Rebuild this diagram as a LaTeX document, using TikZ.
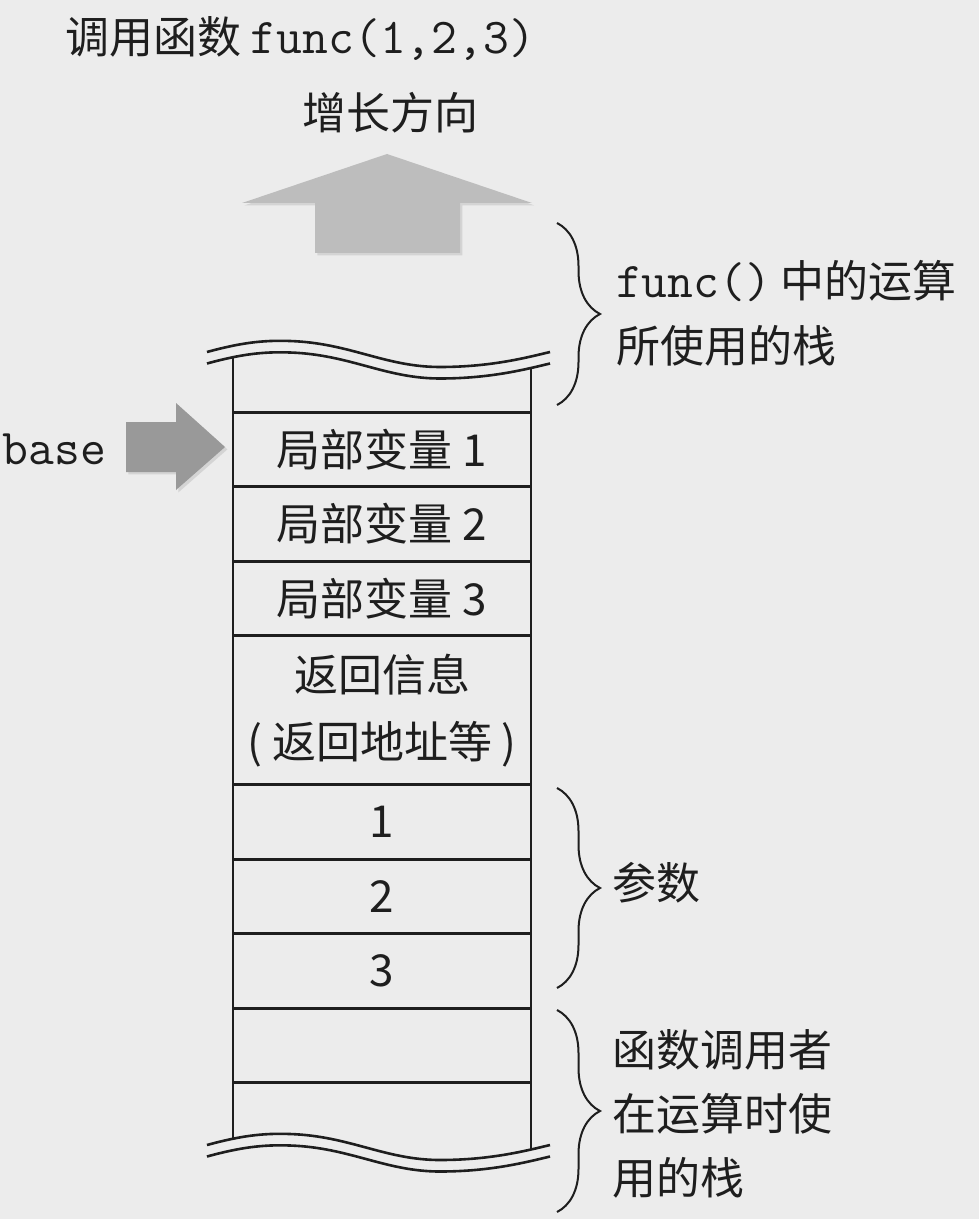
\documentclass[tikz,border=0pt]{standalone}
\usepackage{fontspec}
\setmainfont{Noto Sans CJK SC}
\setmonofont[Scale=1.14]{Latin Modern Mono}
\usetikzlibrary{positioning,decorations.pathreplacing,shadows}
\definecolor{bgcolor}{RGB}{236,236,236}
\definecolor{upgray}{RGB}{189,189,189}
\definecolor{basegray}{RGB}{153,153,153}
\definecolor{inkcolor}{RGB}{30,30,30}
\tikzset{txt/.style={inner sep=0pt, outer sep=0pt, text=inkcolor, font=\fontsize{22pt}{32.5pt}\selectfont}, cell/.style={txt, draw=inkcolor, line width=1.3pt, rectangle, minimum width=149pt, minimum height=37.25pt, align=center}, bigcell/.style={cell, minimum height=74.5pt, font=\fontsize{22pt}{33.5pt}\selectfont}, wave/.style={draw=inkcolor, line width=1.3pt}, curly/.style={draw=inkcolor, line width=1pt, decorate, decoration={brace, amplitude=21.5pt}}, shade/.style={drop shadow={shadow xshift=1.2pt, shadow yshift=-1.2pt, opacity=0.22}}}

\begin{document}
\begin{tikzpicture}[x=0.5pt, y=-0.5pt, node distance=0pt]
    \fill[bgcolor] (0,0) rectangle (979,1219);
    \useasboundingbox (0,0) rectangle (979,1219);
    % texts on top
    \node[txt, anchor=west] (title) at (65,38) {调用函数 \texttt{func(1,2,3)}};
    \node[txt] (grow) at (390,113) {增长方向};
    % arrows
    \fill[upgray, shade] (387,154) -- (532,203) -- (460,203) -- (460,253) -- (315,253) -- (315,203) -- (242,203) -- cycle;
    \fill[basegray, shade] (126,422) -- (176,422) -- (176,403) -- (225,447) -- (176,490) -- (176,472) -- (126,472) -- cycle;
    \node[txt, anchor=west] (base) at (3,449) {\texttt{base}};
    % stack cells
    \node[cell] (L1) at (382,449.5) {局部变量 1};
    \node[cell, below=of L1] (L2) {局部变量 2};
    \node[cell, below=of L2] (L3) {局部变量 3};
    \node[bigcell, below=of L3] (ret) {返回信息\\( 返回地址等 )};
    \node[cell, below=of ret] (A1) {1};
    \node[cell, below=of A1] (A2) {2};
    \node[cell, below=of A2] (A3) {3};
    \node[cell, below=of A3] (C1) {};
    % open ends of the stack
    \coordinate (tl) at (233,357);
    \coordinate (bl) at (233,1139);
    \coordinate (tr) at (531,368);
    \coordinate (br) at (531,1150);
    \draw[wave] (tl) -- (bl);
    \draw[wave] (tr) -- (br);
    \foreach \dy in {0,11.5,793,804.5}
        \draw[wave, shift={(0,\dy)}] (207,352) .. controls (240,343) and (262,340) .. (290,341) .. controls (350,343) and (385,367) .. (440,367) .. controls (490,367) and (525,358) .. (550,352);
    % braces
    \coordinate (b1s) at (557,223);
    \coordinate (b1e) at (557,405);
    \coordinate (b2s) at (557,788);
    \coordinate (b2e) at (557,988);
    \coordinate (b3s) at (557,1010);
    \coordinate (b3e) at (557,1212);
    \draw[curly] (b1s) -- (b1e);
    \draw[curly] (b2s) -- (b2e);
    \draw[curly] (b3s) -- (b3e);
    \node[txt, anchor=west, align=left] (lab1) at (616,313) {\texttt{func()} 中的运算\\所使用的栈};
    \node[txt, anchor=west] (lab2) at (612,883) {参数};
    \node[txt, anchor=west, align=left, font=\fontsize{22pt}{32pt}\selectfont] (lab3) at (612,1114) {函数调用者\\在运算时使\\用的栈};
\end{tikzpicture}
\end{document}
